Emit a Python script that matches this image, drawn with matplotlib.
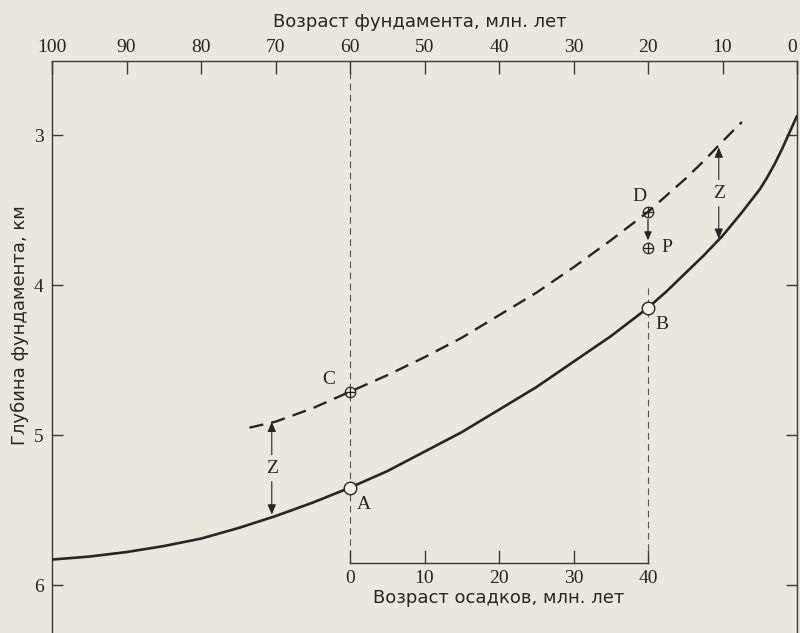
import matplotlib
matplotlib.use("Agg")
import matplotlib.pyplot as plt
from matplotlib import font_manager

# Basement depth versus basement age (top axis, million years)
solid_age = [100, 95, 90, 85, 80, 75, 70, 65, 60, 55, 50, 45, 40, 35, 30, 25, 20,
             17.5, 15, 12.5, 10, 7.5, 5, 4, 3, 2, 1, 0]
solid_depth = [5.83, 5.81, 5.78, 5.74, 5.69, 5.62, 5.54, 5.45, 5.35, 5.24, 5.11, 4.98, 4.83,
               4.68, 4.51, 4.34, 4.15, 4.04, 3.92, 3.80, 3.67, 3.52, 3.36, 3.28, 3.19,
               3.09, 2.98, 2.87]

# Sediment-loaded curve (dashed)
dashed_age = [73.5, 70, 65, 60, 55, 50, 45, 40, 35, 30, 25, 20, 17.5, 15, 12.5, 10, 7.4]
dashed_depth = [4.95, 4.91, 4.82, 4.71, 4.60, 4.48, 4.35, 4.20, 4.05, 3.88, 3.70, 3.51,
                3.40, 3.29, 3.17, 3.04, 2.91]

# Labelled points: (name, basement age, depth)
open_points = [("A", 60, 5.35), ("B", 20, 4.15)]
cross_points = [("C", 60, 4.71), ("D", 20, 3.51), ("P", 20, 3.75)]

# Z offset arrows: (basement age, upper depth, lower depth)
z_arrows = [(70.5, 4.91, 5.53), (10.5, 3.08, 3.69)]

top_ticks = [100, 90, 80, 70, 60, 50, 40, 30, 20, 10, 0]
depth_ticks = [3, 4, 5, 6]
sed_ticks = [0, 10, 20, 30, 40]
sed_origin = 60  # basement age at which sediment age is zero

top_label = "Возраст фундамента, млн. лет"
bottom_label = "Возраст осадков, млн. лет"
left_label = "Глубина фундамента, км"

installed = {f.name for f in font_manager.fontManager.ttflist}
sans = [f for f in ["DejaVu Sans"] if f in installed] or ["sans-serif"]
serif = [f for f in ["Liberation Serif", "DejaVu Serif"] if f in installed]

paper = "#e9e8dc"
ink = "#262622"
num_size = 14
label_size = 13

fig = plt.figure(figsize=(8.0, 6.33), dpi=100, facecolor=paper)
ax = fig.add_axes([52 / 800, 0.0, 745 / 800, 572.5 / 633])
ax.set_facecolor(paper)
ax.set_xlim(100, 0)
ax.set_ylim(2.5 + 573 / 150, 2.5)

for side in ("left", "right", "top"):
    ax.spines[side].set_color("#3a3a35")
    ax.spines[side].set_linewidth(1.0)
ax.spines["bottom"].set_visible(False)

ax.xaxis.set_ticks_position("top")
ax.set_xticks(top_ticks)
ax.set_xticklabels([str(t) for t in top_ticks], family=serif, fontsize=num_size, color=ink)
ax.tick_params(axis="x", direction="in", length=9.5, width=1.0, color="#3a3a35", pad=3)
# keep the corner label inside the page
ax.get_xticklabels()[-1].set_horizontalalignment("right")

ax.set_yticks(depth_ticks)
ax.set_yticklabels([str(t) for t in depth_ticks], family=serif, fontsize=num_size, color=ink)
ax.tick_params(axis="y", direction="in", length=8, width=1.0, color="#3a3a35",
               left=True, right=True, pad=6)

fig.text(420 / 800, 1 - 22 / 633, top_label, family=sans, fontsize=label_size, color=ink,
         ha="center", va="center")
fig.text(20 / 800, 1 - 325 / 633, left_label, family=sans, fontsize=label_size, color=ink,
         ha="center", va="center", rotation=90)

# Guide lines at the two sediment-age limits
axis_depth = 2.5 + (563 - 60) / 150
ax.plot([sed_origin, sed_origin], [2.5, axis_depth], color="#555550", lw=0.8,
        dashes=(6, 4), zorder=1)
ax.plot([sed_origin - 40, sed_origin - 40], [4.02, axis_depth], color="#555550", lw=0.8,
        dashes=(6, 4), zorder=1)

# Sediment-age axis drawn inside the frame
ax.plot([sed_origin, sed_origin - sed_ticks[-1]], [axis_depth, axis_depth], color="#3a3a35", lw=1.0)
tick_len = 0.08
for s in sed_ticks:
    bx = sed_origin - s
    ax.plot([bx, bx], [axis_depth, axis_depth - tick_len], color="#3a3a35", lw=1.0)
    ax.text(bx, axis_depth + 0.1, str(s), family=serif, fontsize=num_size, color=ink,
            ha="center", va="center")
ax.text(sed_origin - 20, axis_depth + 0.235, bottom_label, family=sans, fontsize=label_size,
        color=ink, ha="center", va="center")

# Depth curves
ax.plot(solid_age, solid_depth, color=ink, lw=1.9, solid_capstyle="round",
        solid_joinstyle="round", zorder=3)
ax.plot(dashed_age, dashed_depth, color=ink, lw=1.7, dashes=(6, 3.5), zorder=3)

# Points
for name, a, d in open_points:
    ax.plot([a], [d], marker="o", ms=9, mfc="#f4f3ea", mec=ink, mew=1.0, zorder=5)
for name, a, d in cross_points:
    ax.plot([a], [d], marker="o", ms=7.5, mfc="none", mec=ink, mew=0.9, zorder=5)
    ax.plot([a], [d], marker="+", ms=7.5, mec=ink, mew=0.9, zorder=5)

label_offsets = {"A": (-1.9, 0.11), "B": (-1.9, 0.11), "C": (2.8, -0.08),
                 "D": (1.2, -0.1), "P": (-2.5, 0.0)}
for name, a, d in open_points + cross_points:
    dx, dy = label_offsets[name]
    ax.text(a + dx, d + dy, name, family=serif, fontsize=num_size, color=ink,
            ha="center", va="center")

# Loading arrow D -> P
ax.annotate("", xy=(20, 3.70), xytext=(20, 3.56),
            arrowprops=dict(arrowstyle="-|>,head_length=0.5,head_width=0.22",
                            color=ink, lw=0.9, shrinkA=0, shrinkB=0))

# Z arrows between the curves
for a, top_d, bot_d in z_arrows:
    mid = (top_d + bot_d) / 2
    ax.text(a, mid, "Z", family=serif, fontsize=num_size, color=ink, ha="center", va="center")
    ax.annotate("", xy=(a, top_d), xytext=(a, mid - 0.09),
                arrowprops=dict(arrowstyle="-|>,head_length=0.6,head_width=0.25",
                                color=ink, lw=0.8, shrinkA=0, shrinkB=0))
    ax.annotate("", xy=(a, bot_d), xytext=(a, mid + 0.09),
                arrowprops=dict(arrowstyle="-|>,head_length=0.6,head_width=0.25",
                                color=ink, lw=0.8, shrinkA=0, shrinkB=0))

fig.savefig("out.png", dpi=100, facecolor=paper)
